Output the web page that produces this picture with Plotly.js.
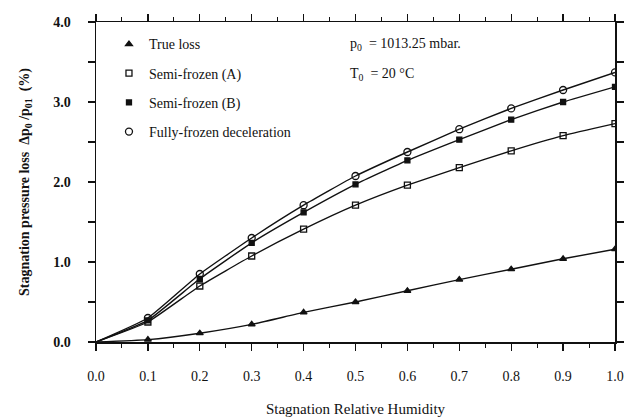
<!DOCTYPE html>
<html>
<head>
<meta charset="utf-8">
<script src="https://cdn.plot.ly/plotly-3.0.1.min.js"></script>
<style>html,body{margin:0;padding:0;background:#fff;}#chart{width:629px;height:419px;}</style>
</head>
<body>
<div id="chart"></div>
<script>
const humidity = [0.0, 0.1, 0.2, 0.3, 0.4, 0.5, 0.6, 0.7, 0.8, 0.9, 1.0];
const trueLoss = [0.0, 0.03, 0.11, 0.22, 0.37, 0.50, 0.64, 0.78, 0.91, 1.04, 1.16];
const semiFrozenA = [0.0, 0.25, 0.70, 1.075, 1.41, 1.71, 1.96, 2.18, 2.39, 2.58, 2.73];
const semiFrozenB = [0.0, 0.27, 0.79, 1.24, 1.62, 1.97, 2.27, 2.53, 2.78, 3.00, 3.19];
const fullyFrozen = [0.0, 0.30, 0.85, 1.30, 1.71, 2.075, 2.375, 2.66, 2.92, 3.15, 3.37];
const seriesNames = ['True loss', 'Semi-frozen (A)', 'Semi-frozen (B)', 'Fully-frozen deceleration'];
const xTickVals = [0.0, 0.1, 0.2, 0.3, 0.4, 0.5, 0.6, 0.7, 0.8, 0.9, 1.0];
const xTickText = ['0.0', '0.1', '0.2', '0.3', '0.4', '0.5', '0.6', '0.7', '0.8', '0.9', '1.0'];
const yTickVals = [0.0, 1.0, 2.0, 3.0, 4.0];
const yTickText = ['0.0', '1.0', '2.0', '3.0', '4.0'];

const allY = [trueLoss, semiFrozenA, semiFrozenB, fullyFrozen];
const symbols = ['triangle-up', 'square-open', 'square', 'circle-open'];
const sizes = [6, 6, 5, 7];

const traces = [];
allY.forEach((ys) => {
  traces.push({x: humidity, y: ys, type: 'scatter', mode: 'lines', showlegend: false,
    line: {color: '#111', width: 1.4, shape: 'spline', smoothing: 0.4}, hoverinfo: 'skip'});
});
allY.forEach((ys, i) => {
  traces.push({x: humidity.slice(1), y: ys.slice(1), type: 'scatter', mode: 'markers', name: seriesNames[i],
    legendgroup: 'g' + i,
    marker: {symbol: symbols[i], size: sizes[i], color: '#111', line: {color: '#111', width: 1.3}}});
});

const serif = 'Liberation Serif, Times New Roman, serif';
const layout = {
  width: 629, height: 419,
  margin: {l: 96, r: 14, t: 22, b: 77},
  paper_bgcolor: '#fff', plot_bgcolor: '#fff',
  font: {family: serif, color: '#111', size: 13},
  showlegend: true,
  legend: {x: 0.025, y: 0.98, xanchor: 'left', yanchor: 'top', bgcolor: 'rgba(0,0,0,0)',
    font: {family: serif, size: 14, color: '#111'}, tracegroupgap: 8, itemwidth: 30,
    traceorder: 'grouped'},
  xaxis: {
    range: [0, 1.0], tickvals: xTickVals, ticktext: xTickText,
    ticks: 'outside', ticklen: 7, tickwidth: 1.2, tickcolor: '#111',
    minor: {dtick: 0.05, tick0: 0, ticks: 'outside', ticklen: 4, tickwidth: 1, tickcolor: '#111'},
    showline: true, linecolor: '#111', linewidth: 1.5, mirror: 'ticks',
    showgrid: false, zeroline: false,
    tickfont: {family: serif, size: 14, color: '#111'}, ticklabelstandoff: 14,
    title: {text: 'Stagnation Relative Humidity', font: {family: serif, size: 15, color: '#111'}, standoff: 20}
  },
  yaxis: {
    range: [0, 4.0], tickvals: yTickVals, ticktext: yTickText,
    ticks: 'outside', ticklen: 7, tickwidth: 1.2, tickcolor: '#111',
    minor: {tickvals: [0.5, 1.5, 2.5, 3.5], ticks: 'outside', ticklen: 7, tickwidth: 1.2, tickcolor: '#111'},
    showline: true, linecolor: '#111', linewidth: 1.5, mirror: 'ticks',
    showgrid: false, zeroline: false,
    tickfont: {family: serif, size: 14, color: '#111', weight: 'bold'}, ticklabelstandoff: 14,
    title: {text: 'Stagnation pressure loss  Δp<sub>0</sub> /p<sub>01</sub>  (%)', font: {family: serif, size: 14, color: '#111', weight: 'bold'}, standoff: 20}
  },
  annotations: [
    {xref: 'paper', yref: 'paper', x: 0.485, y: 0.93, xanchor: 'left', yanchor: 'middle', showarrow: false,
      text: 'p<sub>0</sub>  = 1013.25 mbar.', font: {family: serif, size: 14, color: '#111'}},
    {xref: 'paper', yref: 'paper', x: 0.485, y: 0.835, xanchor: 'left', yanchor: 'middle', showarrow: false,
      text: 'T<sub>0</sub>  = 20 °C', font: {family: serif, size: 14, color: '#111'}}
  ]
};
Plotly.newPlot('chart', traces, layout, {displayModeBar: false, staticPlot: true});
</script>
</body>
</html>
